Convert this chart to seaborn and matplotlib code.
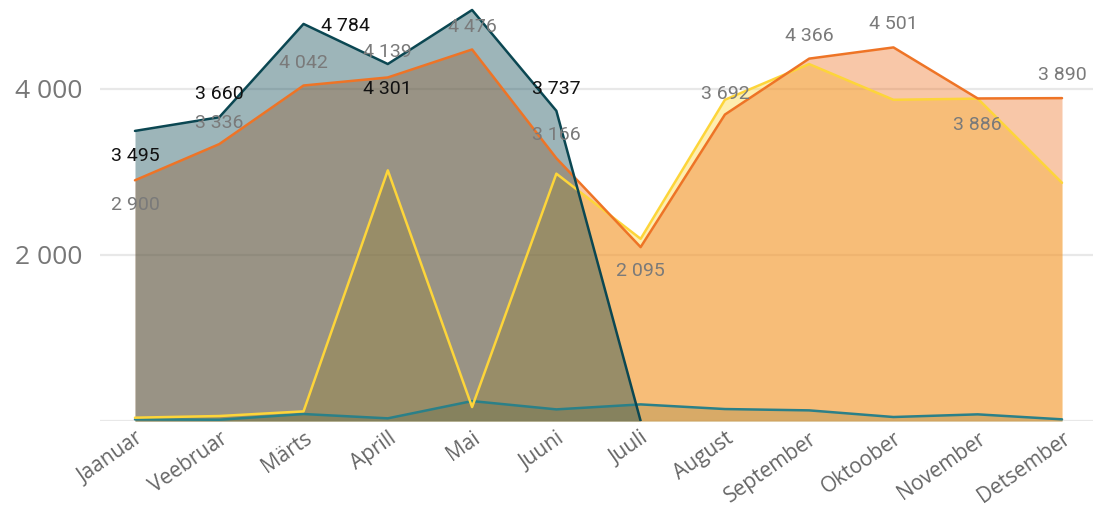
import numpy as np
import pandas as pd
import matplotlib
matplotlib.use("Agg")
import matplotlib.pyplot as plt
import seaborn as sns

months = ["Jaanuar", "Veebruar", "Märts", "Aprill", "Mai", "Juuni", "Juuli",
          "August", "September", "Oktoober", "November", "Detsember"]

# four series
small_teal = [20, 15, 84, 32, 240, 140, 200, 144, 128, 48, 80, 20]
yellow = [40, 60, 116, 3020, 168, 2980, 2195, 3870, 4300, 3870, 3884, 2870]
orange = [2900, 3336, 4042, 4139, 4476, 3166, 2095, 3692, 4366, 4501, 3886, 3890]
dark = [3495, 3660, 4784, 4301, 4952, 3737, 0, np.nan, np.nan, np.nan, np.nan, np.nan]

# which points carry a data label (dark series has no label for May)
dark_labelled = [True, True, True, True, False, True, False, False, False, False, False, False]

# label offsets in pixels (dx, dy) - placement only
dark_offsets = [(0, -25), (0, 23), (42, -2), (0, -25), (0, 0), (0, 22)]
orange_offsets = [(0, -25), (0, 21), (0, 23), (0, 25), (0, 22), (0, 23),
                  (0, -24), (0, 21), (0, 23), (0, 23), (0, -27), (0, 23)]

colors = {
    "small_teal": "#2b8088",
    "yellow": "#fdd53a",
    "orange": "#ee7426",
    "dark": "#0b4752",
}


def fmt(v):
    return f"{int(round(v)):,}".replace(",", " ")


def main():
    sns.set_theme(style="white")
    plt.rcParams["font.family"] = ["Open Sans", "DejaVu Sans"]

    df = pd.DataFrame({
        "month": months,
        "pos": np.arange(len(months)),
        "small_teal": small_teal,
        "yellow": yellow,
        "orange": orange,
        "dark": dark,
    })

    fig = plt.figure(figsize=(10.93, 5.09), dpi=100)
    ax = fig.add_axes([100 / 1093, 1 - 421 / 509, 1 - 100 / 1093, 421 / 509])

    for name in ["small_teal", "yellow", "orange", "dark"]:
        sub = df.dropna(subset=[name])
        ax.fill_between(sub["pos"], 0, sub[name], color=colors[name], alpha=0.4,
                        linewidth=0, zorder=2)
        sns.lineplot(data=sub, x="pos", y=name, color=colors[name], lw=1.8,
                     ax=ax, zorder=3, legend=False)

    label_font = ["Roboto", "DejaVu Sans"]
    for i, v in enumerate(orange):
        dx, dy = orange_offsets[i]
        ax.annotate(fmt(v), (i, v), xytext=(dx, dy), textcoords="offset pixels",
                    ha="center", va="center", fontsize=14, color="#7a7a7a",
                    family=label_font, zorder=5)
    for i, v in enumerate(dark):
        if not dark_labelled[i]:
            continue
        dx, dy = dark_offsets[i]
        ax.annotate(fmt(v), (i, v), xytext=(dx, dy), textcoords="offset pixels",
                    ha="center", va="center", fontsize=14, color="#111111",
                    family=label_font, zorder=5)

    ax.set_xlim(-35 / 84.3, 11 + 31 / 84.3)
    ax.set_ylim(0, 421 * 2000 / 166)
    for g in [0, 2000, 4000]:
        ax.axhline(g, color="#e8e8e8", lw=1.6, zorder=1)

    ax.set_yticks([2000, 4000])
    ax.set_yticklabels([fmt(t) for t in [2000, 4000]], fontsize=19, color="#777777")
    ax.set_xticks(df["pos"])
    ax.set_xticklabels(months, rotation=35, ha="right", rotation_mode="anchor",
                       fontsize=15, color="#666666")
    ax.tick_params(axis="y", length=0, pad=13)
    ax.tick_params(axis="x", length=0, pad=5)
    ax.set_xlabel("")
    ax.set_ylabel("")
    sns.despine(ax=ax, left=True, bottom=True)
    ax.patch.set_alpha(0)

    fig.savefig("out.png", dpi=100)


if __name__ == "__main__":
    main()
